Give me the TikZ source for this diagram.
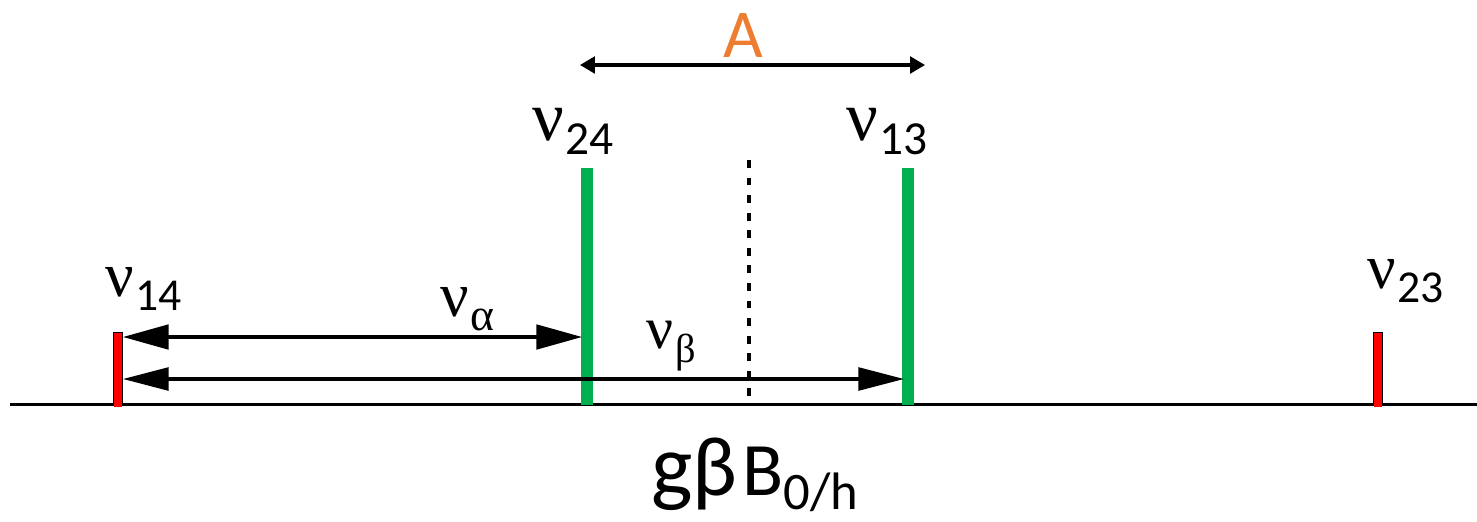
\documentclass[tikz,border=0pt]{standalone}
\usepackage{fontspec}
\setmainfont{Carlito}
\newfontfamily\greekfont{Liberation Serif}
\usetikzlibrary{arrows.meta}
\definecolor{peak}{HTML}{00B050}
\definecolor{side}{HTML}{FF0000}
\definecolor{hyper}{HTML}{ED7D31}
\newcommand{\nusub}[3]{{\greekfont\fontsize{#1}{#1}\selectfont ν}\kern1pt\raisebox{-8.5pt}{\fontsize{#2}{#2}\selectfont #3}}
\newcommand{\fsz}[1]{\fontsize{#1}{#1}\selectfont}

\begin{document}
\begin{tikzpicture}[x=0.02cm,y=-0.02cm]
  \useasboundingbox (0,0) rectangle (1477,521);
  % axis and centre
  \coordinate (axL) at (10,404);
  \coordinate (axR) at (1477,404);
  \coordinate (mid-t) at (749,160);
  \coordinate (mid-b) at (749,404);
  \draw[line width=1.7pt] (axL) -- (axR);
  \draw[line width=2.2pt,dash pattern=on 4.5pt off 5.5pt] (mid-t) -- (mid-b);
  % lines
  \foreach \name/\x/\y in {r14/118/332, g24/587/168, g13/908/168, r23/1378/332} {
    \coordinate (\name-b) at (\x,405);
    \coordinate (\name-t) at (\x,\y);
  }
  \foreach \name in {r14, r23} {
    \draw[black,line width=6pt] (\name-b) -- (\name-t);
    \draw[side,line width=4.6pt] ([yshift=-1pt]\name-b) -- ([yshift=-0.6pt]\name-t);
  }
  \foreach \name in {g24, g13}
    \draw[peak,line width=6.5pt] (\name-b) -- (\name-t);
  % splittings
  \coordinate (aL) at (123,337);
  \coordinate (aR) at (582,337);
  \coordinate (bL) at (123,379);
  \coordinate (bR) at (904,379);
  \draw[line width=1.8pt,{Triangle[length=26pt,width=14pt]}-{Triangle[length=26pt,width=14pt]}] (aL) -- (aR);
  \draw[line width=1.8pt,{Triangle[length=26pt,width=13pt]}-{Triangle[length=26pt,width=13pt]}] (bL) -- (bR);
  \coordinate (AL) at (580,65);
  \coordinate (AR) at (925,65);
  \draw[line width=1.8pt,{Triangle[length=8.5pt,width=9.5pt]}-{Triangle[length=8.5pt,width=9.5pt]}] (AL) -- (AR);
  % labels
  \node[hyper,anchor=base,inner sep=0,font=\fsz{39}] (A) at (743,57) {A};
  \node[anchor=base west,inner sep=0] (n24) at (532,140) {\nusub{40}{27}{24}};
  \node[anchor=base west,inner sep=0] (n13) at (846,140) {\nusub{40}{27}{13}};
  \node[anchor=base west,inner sep=0] (n14) at (105,296) {\nusub{36}{26}{14}};
  \node[anchor=base west,inner sep=0] (n23) at (1367,288) {\nusub{36}{26}{23}};
  \node[anchor=base west,inner sep=0] (nal) at (440,316) {\nusub{36}{26}{\greekfont α}};
  \node[anchor=base west,inner sep=0] (nbe) at (646,348) {\nusub{34}{23}{\greekfont β}};
  \node[anchor=base west,inner sep=0] (field) at (651,495)
    {{\fsz{50}g}{\fsz{48}β}\kern3pt{\fsz{43}B}\raisebox{-8.5pt}{\fsz{30}0/h}};
\end{tikzpicture}
\end{document}
